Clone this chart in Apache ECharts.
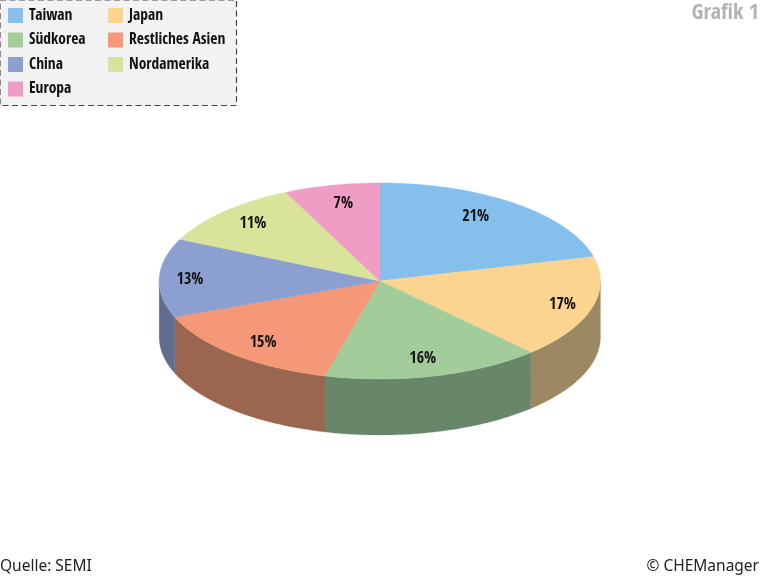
<!DOCTYPE html>
<html><head><meta charset="utf-8">
<style>html,body{margin:0;padding:0;background:#fff}#c{width:760px;height:578px}</style>
<script src="https://cdn.jsdelivr.net/npm/echarts@6/dist/echarts.min.js"></script>
</head><body><div id="c"></div>
<script>
var categories = ['Taiwan','Japan','Südkorea','Restliches Asien','China','Nordamerika','Europa'];
var shares = [21,17,16,15,13,11,7];
var topColors = ['#85bfeb','#fbd490','#a2cd9a','#f49878','#8b9fd1','#d9e39a','#ef9dc4'];
var sideColors = ['#5b83a1','#9c8862','#68866a','#9a6650','#5f6d8f','#95a06c','#a86e8a'];
var legendLeft = ['Taiwan','Südkorea','China','Europa'];
var legendRight = ['Japan','Restliches Asien','Nordamerika'];
var labelFont = '"Open Sans Condensed","Open Sans",sans-serif';
var plainFont = '"Noto Sans","Open Sans",sans-serif';
var CX=379.8, CY=281, RX=220.6, RY=98, DEPTH=56, LABEL_R=0.82;
var labelNudge = [[-15,-1],[9,1],[-2,0],[3,2],[-9,1],[1,0],[3,1]];
var total = shares.reduce(function(a,b){return a+b;},0);

function pt(a,dy){return [CX+RX*Math.sin(a), CY-RY*Math.cos(a)+(dy||0)];}
function arc(a0,a1,dy){
  var n=Math.max(2,Math.ceil(Math.abs(a1-a0)/0.015)),out=[];
  for(var i=0;i<=n;i++){out.push(pt(a0+(a1-a0)*i/n,dy));}
  return out;
}
function renderSlice(params, api){
  var idx=params.seriesIndex, v=api.value(0), st=api.value(1);
  var a0=st/total*2*Math.PI, a1=(st+v)/total*2*Math.PI;
  var kids=[];
  var f0=Math.max(a0,Math.PI/2), f1=Math.min(a1,Math.PI*1.5);
  if(f1>f0){
    kids.push({type:'polygon',z2:1,shape:{points:arc(f0,f1,0).concat(arc(f1,f0,DEPTH))},
      style:{fill:sideColors[idx],stroke:sideColors[idx],lineWidth:0.3}});
  }
  kids.push({type:'polygon',z2:10,shape:{points:[[CX,CY]].concat(arc(a0,a1,0))},
    style:{fill:topColors[idx],stroke:topColors[idx],lineWidth:0.5}});
  var m=(a0+a1)/2, nudge=labelNudge[idx];
  kids.push({type:'text',z2:20,x:CX+RX*LABEL_R*Math.sin(m)+nudge[0],y:CY-RY*LABEL_R*Math.cos(m)+nudge[1],
    style:{text:Math.round(v/total*100)+'%',fill:'#111',font:'bold 16px '+labelFont,align:'center',verticalAlign:'middle'}});
  return {type:'group',children:kids};
}
var running=0;
var series=categories.map(function(name,i){
  var s={type:'custom',name:name,coordinateSystem:'none',silent:true,animation:false,
    itemStyle:{color:topColors[i]},renderItem:renderSlice,data:[[shares[i],running]]};
  running+=shares[i];
  return s;
});
function legend(left,names){
  return {left:left,top:7.5,orient:'vertical',icon:'rect',itemWidth:15,itemHeight:15,itemGap:8.5,
    selectedMode:false,padding:0,data:names,
    textStyle:{color:'#111',fontFamily:labelFont,fontWeight:'bold',fontSize:15.5,lineHeight:15,padding:[0,0,0,1]}};
}
var chart=echarts.init(document.getElementById('c'),null,{renderer:'canvas'});
chart.setOption({
  animation:false,backgroundColor:'#fff',
  legend:[legend(8,legendLeft),legend(108,legendRight)],
  graphic:[
    {type:'rect',z:0,shape:{x:0,y:0,width:236.5,height:105.5},
      style:{fill:'#f2f2f2',stroke:'#444',lineWidth:1.2,lineDash:[6,3.5]}},
    {type:'text',right:1,top:2,style:{text:'Grafik 1',fill:'#b3b3b3',font:'bold 22px '+labelFont}},
    {type:'text',left:0,top:559,style:{text:'Quelle: SEMI',fill:'#222',font:'15.5px '+plainFont}},
    {type:'text',right:1,top:559,style:{text:'© CHEManager',fill:'#222',font:'15.5px '+plainFont}}
  ],
  series:series
});
</script></body></html>
